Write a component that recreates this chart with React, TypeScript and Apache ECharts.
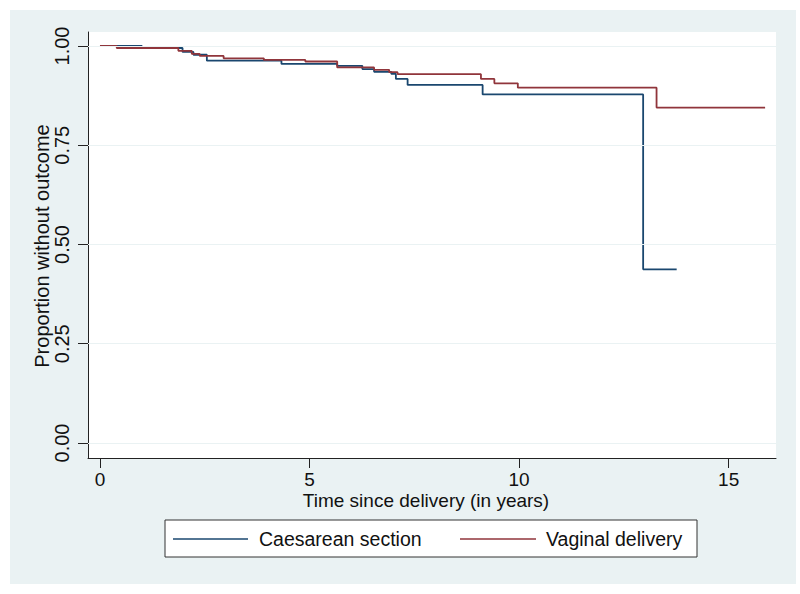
import React, { useEffect, useRef } from "react";
import * as echarts from "echarts";

// Kaplan–Meier step data (time in years, survival proportion)
const caesareanTime = [0, 1.0, 1.97, 2.23, 2.55, 4.33, 5.66, 6.26, 6.54, 6.95, 7.06, 7.34, 9.13, 12.96, 13.76];
const caesareanSurv = [1.0, 0.995, 0.985, 0.978, 0.963, 0.955, 0.95, 0.942, 0.935, 0.93, 0.917, 0.902, 0.878, 0.4375, 0.4375];

const vaginalTime = [0, 0.4, 1.87, 2.19, 2.38, 2.95, 3.91, 4.9, 5.66, 6.54, 6.9, 7.1, 9.09, 9.41, 9.97, 13.28, 15.87];
const vaginalSurv = [1.0, 0.995, 0.988, 0.98, 0.975, 0.969, 0.965, 0.961, 0.946, 0.94, 0.934, 0.929, 0.917, 0.906, 0.895, 0.845, 0.845];

const xTicks = [0, 5, 10, 15];
const yTicks = [0, 0.25, 0.5, 0.75, 1.0];

const seriesNames = ["Caesarean section", "Vaginal delivery"];
const seriesColors = ["#1a476f", "#90353b"];

const FONT = "Liberation Sans, Arial, sans-serif";

export default function App() {
  const ref = useRef<HTMLDivElement>(null);

  useEffect(() => {
    if (!ref.current) return;
    const chart = echarts.init(ref.current, undefined, { renderer: "svg" });
    const zip = (t: number[], s: number[]) => t.map((v, i) => [v, s[i]]);

    chart.setOption({
      animation: false,
      backgroundColor: "#ffffff",
      graphic: [
        {
          type: "rect",
          z: -10,
          silent: true,
          shape: { x: 10, y: 10, width: 786, height: 574 },
          style: { fill: "#eaf2f3" },
        },
        {
          type: "text",
          x: 42,
          y: 246,
          rotation: Math.PI / 2,
          style: {
            text: "Proportion without outcome",
            font: `20px ${FONT}`,
            fill: "#111",
            align: "center",
            verticalAlign: "middle",
          },
        },
        {
          type: "text",
          x: 426,
          y: 500,
          style: {
            text: "Time since delivery (in years)",
            font: `19px ${FONT}`,
            fill: "#111",
            align: "center",
            verticalAlign: "middle",
          },
        },
        {
          type: "rect",
          shape: { x: 165, y: 520, width: 532, height: 37 },
          style: { fill: "#ffffff", stroke: "#333", lineWidth: 1 },
        },
        {
          type: "line",
          shape: { x1: 173, y1: 539, x2: 248, y2: 539 },
          style: { stroke: seriesColors[0], lineWidth: 1.6 },
        },
        {
          type: "text",
          x: 259,
          y: 539,
          style: {
            text: seriesNames[0],
            font: `19.5px ${FONT}`,
            fill: "#111",
            align: "left",
            verticalAlign: "middle",
          },
        },
        {
          type: "line",
          shape: { x1: 460, y1: 539, x2: 536, y2: 539 },
          style: { stroke: seriesColors[1], lineWidth: 1.6 },
        },
        {
          type: "text",
          x: 546,
          y: 539,
          style: {
            text: seriesNames[1],
            font: `19.5px ${FONT}`,
            fill: "#111",
            align: "left",
            verticalAlign: "middle",
          },
        },
      ],
      grid: {
        left: 88,
        right: 24,
        top: 32,
        bottom: 136,
        show: true,
        backgroundColor: "#ffffff",
        borderWidth: 0,
      },
      xAxis: {
        type: "value",
        min: -0.286,
        max: 16.13,
        axisLine: { show: true, onZero: false, lineStyle: { color: "#222", width: 1 } },
        axisTick: { show: true, length: 10, customValues: xTicks, lineStyle: { color: "#222" } },
        axisLabel: {
          customValues: xTicks,
          margin: 12,
          fontSize: 19,
          fontFamily: FONT,
          color: "#111",
        },
        splitLine: { show: false },
      },
      yAxis: {
        type: "value",
        min: -0.0378,
        max: 1.0353,
        axisLine: { show: true, onZero: false, lineStyle: { color: "#222", width: 1 } },
        axisTick: { show: true, length: 10, customValues: yTicks, lineStyle: { color: "#222" } },
        axisLabel: {
          customValues: yTicks,
          rotate: 90,
          margin: 16,
          fontSize: 20,
          fontFamily: FONT,
          color: "#111",
          formatter: (v: number) => v.toFixed(2),
        },
        splitLine: { show: false },
      },
      series: [
        {
          type: "line",
          name: "grid",
          data: [],
          z: 1,
          silent: true,
          markLine: {
            silent: true,
            symbol: "none",
            label: { show: false },
            lineStyle: { color: "#eaf2f3", width: 1, type: "solid" },
            data: yTicks.map((v) => ({ yAxis: v })),
          },
        },
        {
          type: "line",
          name: seriesNames[0],
          data: zip(caesareanTime, caesareanSurv),
          step: "end",
          showSymbol: false,
          symbol: "none",
          z: 3,
          lineStyle: { color: seriesColors[0], width: 1.8 },
          itemStyle: { color: seriesColors[0] },
        },
        {
          type: "line",
          name: seriesNames[1],
          data: zip(vaginalTime, vaginalSurv),
          step: "end",
          showSymbol: false,
          symbol: "none",
          z: 4,
          lineStyle: { color: seriesColors[1], width: 1.8 },
          itemStyle: { color: seriesColors[1] },
        },
      ],
    });
    return () => chart.dispose();
  }, []);

  return (
    <div
      ref={ref}
      style={{ position: "fixed", left: 0, top: 0, width: 800, height: 594 }}
    />
  );
}
